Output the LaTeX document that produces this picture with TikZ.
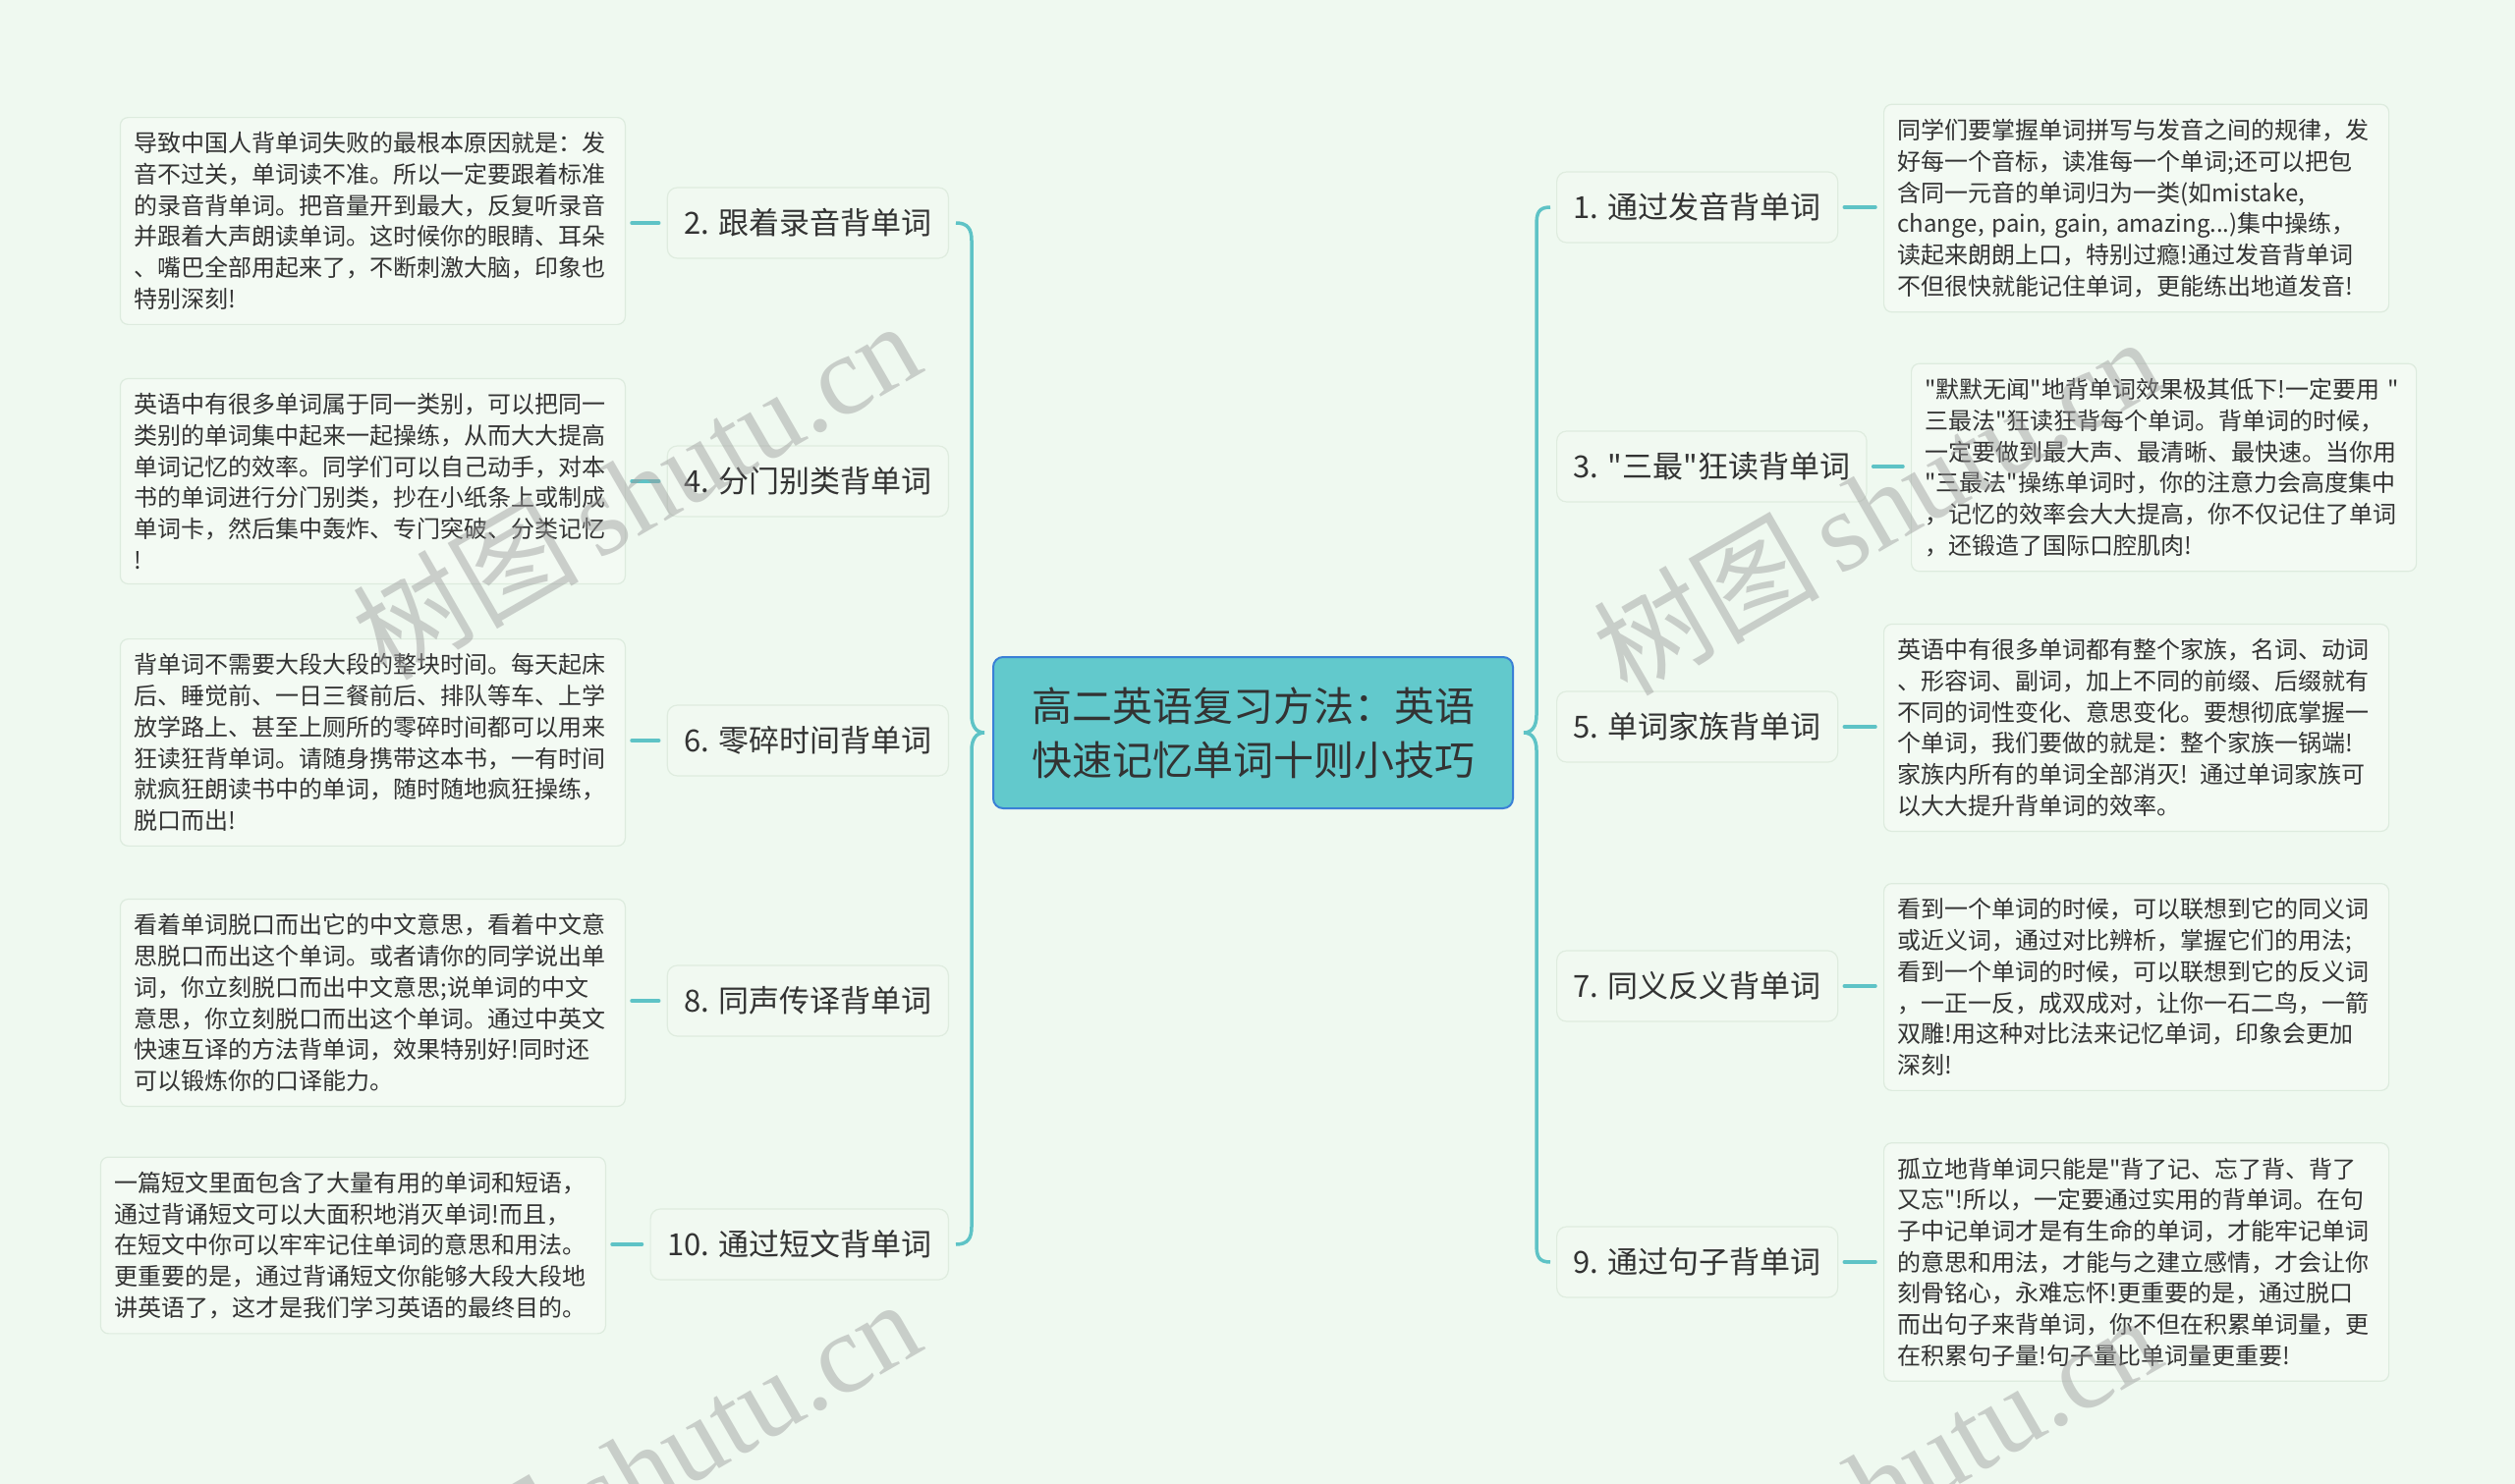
\documentclass[tikz,border=0pt]{standalone}
\usepackage{fontspec}
\newfontfamily\cjk{Noto Sans CJK SC}[Ligatures=TeXOff]
\newfontfamily\wmserif{Liberation Serif}
\usetikzlibrary{calc}
\definecolor{bgc}{HTML}{EFF9F0}
\definecolor{connc}{HTML}{5EC3C6}
\definecolor{centerfill}{HTML}{62C9CC}
\definecolor{centerdraw}{HTML}{3A80D6}
\definecolor{txt}{HTML}{333333}
\definecolor{leaffill}{HTML}{F3FAF3}
\definecolor{leafdraw}{HTML}{DDEBDE}
\definecolor{labelfill}{HTML}{F1F9F1}
\definecolor{labeldraw}{HTML}{DFECDF}
\definecolor{wmc}{HTML}{9A9A9A}
\tikzset{
  conn/.style={draw=connc, line width=3.5pt, line cap=round},
  leafbox/.style={draw=leafdraw, fill=leaffill, rounded corners=8pt, line width=1.2pt,
    font=\cjk\fontsize{24}{31.7}\selectfont, text=txt, align=left, text width=486pt,
    inner xsep=14pt, inner ysep=15pt},
  labelbox/.style={draw=labeldraw, fill=labelfill, rounded corners=10pt, line width=1.2pt,
    font=\cjk\fontsize{31}{36}\selectfont, text=txt, minimum height=72pt, inner xsep=17pt},
  centerbox/.style={draw=centerdraw, fill=centerfill, rounded corners=10pt, line width=2pt,
    font=\cjk\fontsize{41}{55}\selectfont, text=txt, align=center,
    minimum width=529pt, minimum height=154pt},
  wmark/.style={text=wmc, opacity=0.45, rotate=30, inner sep=0pt}
}
\begin{document}
\begin{tikzpicture}[x=1pt,y=-1pt]
\path[use as bounding box, fill=bgc] (0,0) rectangle (2560,1511);
\clip (0,0) rectangle (2560,1511);

% center
\node[centerbox] (c) at (1275.5,746) {高二英语复习方法：英语\\快速记忆单词十则小技巧};

% left labels
\node[labelbox, anchor=east] (l2) at (966,227) {2. 跟着录音背单词};
\node[labelbox, anchor=east] (l4) at (966,490) {4. 分门别类背单词};
\node[labelbox, anchor=east] (l6) at (966,754) {6. 零碎时间背单词};
\node[labelbox, anchor=east] (l8) at (966,1019) {8. 同声传译背单词};
\node[labelbox, anchor=east] (l10) at (966,1267) {10. 通过短文背单词};

% right labels
\node[labelbox, anchor=west] (l1) at (1584,211) {1. 通过发音背单词};
\node[labelbox, anchor=west] (l3) at (1584,475) {3. "三最"狂读背单词};
\node[labelbox, anchor=west] (l5) at (1584,740) {5. 单词家族背单词};
\node[labelbox, anchor=west] (l7) at (1584,1004) {7. 同义反义背单词};
\node[labelbox, anchor=west] (l9) at (1584,1285) {9. 通过句子背单词};

% left leaves
\node[leafbox, anchor=east] (d2) at (637,225) {导致中国人背单词失败的最根本原因就是：发\\音不过关，单词读不准。所以一定要跟着标准\\的录音背单词。把音量开到最大，反复听录音\\并跟着大声朗读单词。这时候你的眼睛、耳朵\\、嘴巴全部用起来了，不断刺激大脑，印象也\\特别深刻!};
\node[leafbox, anchor=east] (d4) at (637,490) {英语中有很多单词属于同一类别，可以把同一\\类别的单词集中起来一起操练，从而大大提高\\单词记忆的效率。同学们可以自己动手，对本\\书的单词进行分门别类，抄在小纸条上或制成\\单词卡，然后集中轰炸、专门突破、分类记忆\\!};
\node[leafbox, anchor=east] (d6) at (637,756) {背单词不需要大段大段的整块时间。每天起床\\后、睡觉前、一日三餐前后、排队等车、上学\\放学路上、甚至上厕所的零碎时间都可以用来\\狂读狂背单词。请随身携带这本书，一有时间\\就疯狂朗读书中的单词，随时随地疯狂操练，\\脱口而出!};
\node[leafbox, anchor=east] (d8) at (637,1021) {看着单词脱口而出它的中文意思，看着中文意\\思脱口而出这个单词。或者请你的同学说出单\\词，你立刻脱口而出中文意思;说单词的中文\\意思，你立刻脱口而出这个单词。通过中英文\\快速互译的方法背单词，效果特别好!同时还\\可以锻炼你的口译能力。};
\node[leafbox, anchor=east] (d10) at (617,1268) {一篇短文里面包含了大量有用的单词和短语，\\通过背诵短文可以大面积地消灭单词!而且，\\在短文中你可以牢牢记住单词的意思和用法。\\更重要的是，通过背诵短文你能够大段大段地\\讲英语了，这才是我们学习英语的最终目的。};

% right leaves
\node[leafbox, anchor=west] (r1) at (1917,212) {同学们要掌握单词拼写与发音之间的规律，发\\好每一个音标，读准每一个单词;还可以把包\\含同一元音的单词归为一类(如mistake,\\change, pain, gain, amazing...)集中操练，\\读起来朗朗上口，特别过瘾!通过发音背单词\\不但很快就能记住单词，更能练出地道发音!};
\node[leafbox, anchor=west] (r3) at (1945,476) {"默默无闻"地背单词效果极其低下!一定要用 "\\三最法"狂读狂背每个单词。背单词的时候，\\一定要做到最大声、最清晰、最快速。当你用\\"三最法"操练单词时，你的注意力会高度集中\\，记忆的效率会大大提高，你不仅记住了单词\\，还锻造了国际口腔肌肉!};
\node[leafbox, anchor=west] (r5) at (1917,741) {英语中有很多单词都有整个家族，名词、动词\\、形容词、副词，加上不同的前缀、后缀就有\\不同的词性变化、意思变化。要想彻底掌握一\\个单词，我们要做的就是：整个家族一锅端!\\家族内所有的单词全部消灭! 通过单词家族可\\以大大提升背单词的效率。};
\node[leafbox, anchor=west] (r7) at (1917,1005) {看到一个单词的时候，可以联想到它的同义词\\或近义词，通过对比辨析，掌握它们的用法;\\看到一个单词的时候，可以联想到它的反义词\\，一正一反，成双成对，让你一石二鸟，一箭\\双雕!用这种对比法来记忆单词，印象会更加\\深刻!};
\node[leafbox, anchor=west] (r9) at (1917,1285) {孤立地背单词只能是"背了记、忘了背、背了\\又忘"!所以，一定要通过实用的背单词。在句\\子中记单词才是有生命的单词，才能牢记单词\\的意思和用法，才能与之建立感情，才会让你\\刻骨铭心，永难忘怀!更重要的是，通过脱口\\而出句子来背单词，你不但在积累单词量，更\\在积累句子量!句子量比单词量更重要!};

% label-to-leaf connectors
\foreach \a/\b in {l2/d2,l4/d4,l6/d6,l8/d8,l10/d10}
  \draw[conn, shorten <=8pt, shorten >=6pt] (\a.west) -- (\a.west -| \b.east);
\foreach \a/\b in {l1/r1,l3/r3,l5/r5,l7/r7,l9/r9}
  \draw[conn, shorten <=6pt, shorten >=8pt] (\a.east) -- (\a.east -| \b.west);

% left brace
\coordinate (bLt) at ($(l2.east)+(7,0)$);
\coordinate (bLb) at ($(l10.east)+(7,0)$);
\coordinate (bLv) at ($(c.west)+(-21,0)$);
\coordinate (bLtip) at ($(c.west)+(-8,0)$);
\draw[conn, line cap=butt] (bLt) .. controls +(12,0) and +(0,-12) .. ($(bLt -| bLv)+(0,18)$)
  -- ($(bLtip -| bLv)+(0,-18)$) .. controls +(0,12) and +(-8,0) .. (bLtip)
  .. controls +(-8,0) and +(0,-12) .. ($(bLtip -| bLv)+(0,18)$)
  -- ($(bLb -| bLv)+(0,-18)$) .. controls +(0,12) and +(12,0) .. (bLb);

% right brace
\coordinate (bRt) at ($(l1.west)+(-6,0)$);
\coordinate (bRb) at ($(l9.west)+(-6,0)$);
\coordinate (bRv) at ($(c.east)+(23,0)$);
\coordinate (bRtip) at ($(c.east)+(10,0)$);
\draw[conn, line cap=butt] (bRt) .. controls +(-12,0) and +(0,-12) .. ($(bRt -| bRv)+(0,18)$)
  -- ($(bRtip -| bRv)+(0,-18)$) .. controls +(0,12) and +(8,0) .. (bRtip)
  .. controls +(8,0) and +(0,-12) .. ($(bRtip -| bRv)+(0,18)$)
  -- ($(bRb -| bRv)+(0,-18)$) .. controls +(0,12) and +(-12,0) .. (bRb);

% watermarks
\node[wmark] (w1) at (647,498) {\cjk\fontsize{115}{120}\selectfont 树图\,\wmserif shutu.cn};
\node[wmark] (w2) at (1910,514) {\cjk\fontsize{115}{120}\selectfont 树图\,\wmserif shutu.cn};
\node[wmark] (w3) at (647,1494) {\cjk\fontsize{115}{120}\selectfont 树图\,\wmserif shutu.cn};
\node[wmark] (w4) at (1910,1510) {\cjk\fontsize{115}{120}\selectfont 树图\,\wmserif shutu.cn};
\end{tikzpicture}
\end{document}
